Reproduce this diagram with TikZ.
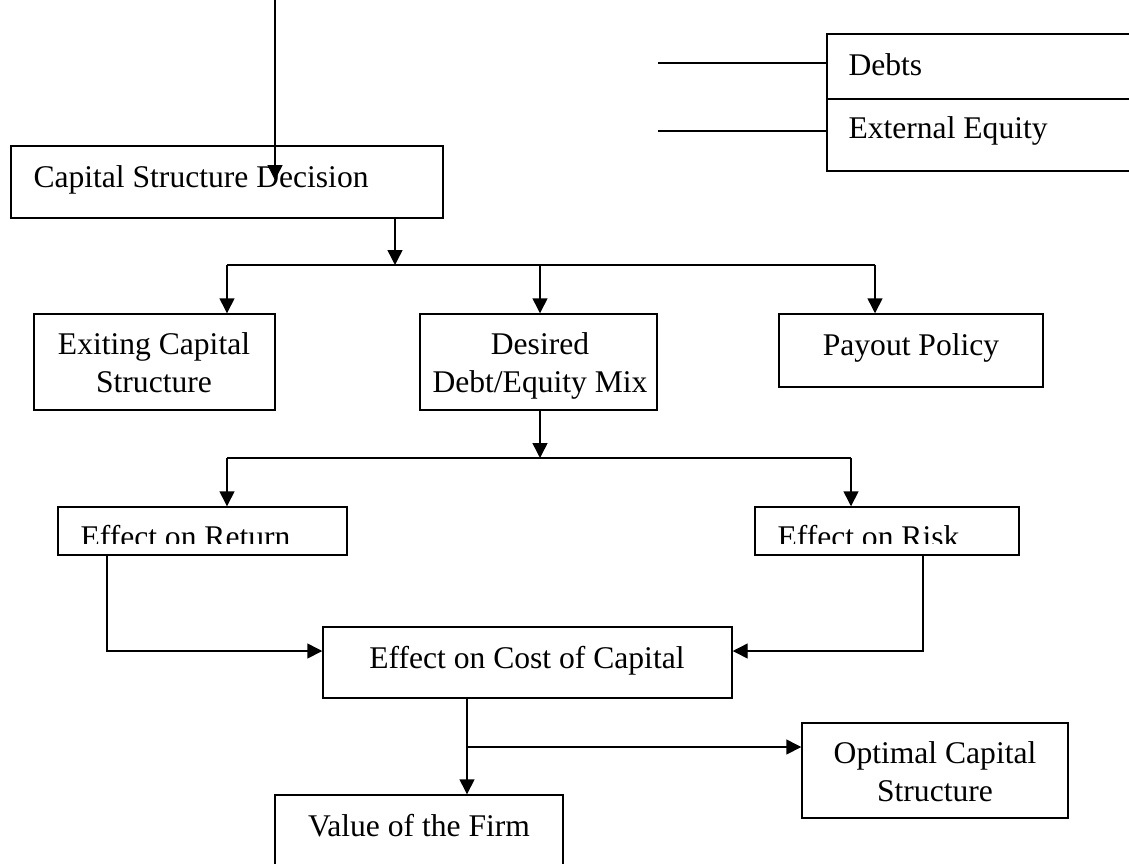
\documentclass[tikz,border=0pt]{standalone}
\usepackage{fontspec}
\setmainfont{Liberation Serif}
\usetikzlibrary{arrows.meta, fit, positioning}

\tikzset{
  box/.style={draw, line width=0.55pt, inner sep=0pt},
  txt/.style={font=\fontsize{12}{14.4}\selectfont, inner sep=0pt, align=center},
  arr/.style={line width=0.55pt, -{Triangle[length=5.7pt,width=5.7pt]}},
  ln/.style={line width=0.55pt}
}

\begin{document}
\begin{tikzpicture}[x=0.38pt, y=-0.38pt]
\clip (0,0) rectangle (1129,863);
\fill[white] (0,0) rectangle (1129,863);

% boxes
\node[box, fit={(11,146) (443,218)}] (csd) {};
\node[box, fit={(827,34) (1140,99)}] (debts) {};
\node[box, fit={(827,99) (1140,171)}] (equity) {};
\node[box, fit={(34,314) (275,410)}] (exist) {};
\node[box, fit={(420,314) (657,410)}] (mix) {};
\node[box, fit={(779,314) (1043,387)}] (payout) {};
\node[box, fit={(58,507) (347,555)}] (ret) {};
\node[box, fit={(755,507) (1019,555)}] (risk) {};
\node[box, fit={(323,627) (732,698)}] (cost) {};
\node[box, fit={(275,795) (563,900)}] (value) {};
\node[box, fit={(802,723) (1068,818)}] (optimal) {};

% texts
\node[txt, anchor=base west] (tcsd) at (33,187) {Capital Structure Decision};
\node[txt, anchor=base west] (tdebts) at (848,75) {Debts};
\node[txt, anchor=base west] (tequity) at (848,138) {External Equity};
\node[txt, anchor=base] (texist) at (154,392) {Exiting Capital\\Structure};
\node[txt, anchor=base] (tmix) at (540,392) {Desired\\Debt/Equity Mix};
\node[txt, anchor=base] (tpayout) at (911,355) {Payout Policy};
\begin{scope}
\clip (58,507) rectangle (1019,543);
\node[txt, anchor=base west] (tret) at (80,547) {Effect on Return};
\node[txt, anchor=base west] (trisk) at (777,547) {Effect on Risk};
\end{scope}
\node[txt, anchor=base] (tcost) at (527,668) {Effect on Cost of Capital};
\node[txt, anchor=base] (tvalue) at (419,836) {Value of the Firm};
\node[txt, anchor=base] (toptimal) at (935,801) {Optimal Capital\\Structure};

% junctions
\coordinate (in) at (275,-5);
\coordinate (inend) at (275,180);
\coordinate (j1) at (395,265);
\coordinate (j1a) at (227,265);
\coordinate (j1b) at (540,265);
\coordinate (j1c) at (875,265);
\coordinate (j2) at (540,458);
\coordinate (j2a) at (227,458);
\coordinate (j2b) at (851,458);
\coordinate (j3a) at (107,651);
\coordinate (j3b) at (923,651);
\coordinate (j4) at (467,747);
\coordinate (dl) at (658,63);
\coordinate (el) at (658,131);

% connectors
\draw[arr] (in) -- (inend);
\draw[ln] (dl) -- (dl -| debts.west);
\draw[ln] (el) -- (el -| equity.west);
\draw[arr] (j1 |- csd.south) -- (j1);
\draw[ln] (j1a) -- (j1c);
\draw[arr] (j1a) -- (j1a |- exist.north);
\draw[arr] (j1b) -- (j1b |- mix.north);
\draw[arr] (j1c) -- (j1c |- payout.north);
\draw[arr] (j2 |- mix.south) -- (j2);
\draw[ln] (j2a) -- (j2b);
\draw[arr] (j2a) -- (j2a |- ret.north);
\draw[arr] (j2b) -- (j2b |- risk.north);
\draw[arr] (j3a |- ret.south) -- (j3a) -- (j3a -| cost.west);
\draw[arr] (j3b |- risk.south) -- (j3b) -- (j3b -| cost.east);
\draw[arr] (j4 |- cost.south) -- (j4 |- value.north);
\draw[arr] (j4) -- (j4 -| optimal.west);
\end{tikzpicture}
\end{document}
